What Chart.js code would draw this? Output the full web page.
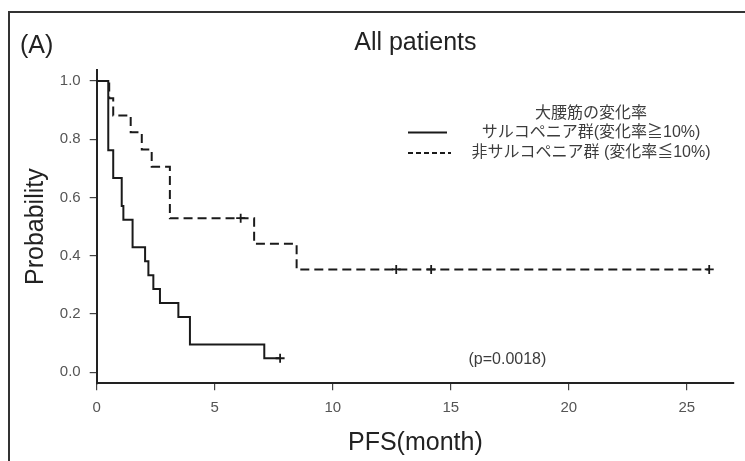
<!DOCTYPE html>
<html><head><meta charset="utf-8">
<script src="https://cdn.jsdelivr.net/npm/chart.js@4"></script>
<style>html,body{margin:0;padding:0;background:#fff}canvas{display:block}</style>
</head><body>
<canvas id="c" width="745" height="461"></canvas>
<script>
const panelLabel = '(A)';
const chartTitle = 'All patients';
const xAxisTitle = 'PFS(month)';
const yAxisTitle = 'Probability';
const legendTitle = '大腰筋の変化率';
const seriesNames = ['サルコペニア群(変化率≧10%)', '非サルコペニア群 (変化率≦10%)'];
const pValueText = '(p=0.0018)';
const xTicks = [0, 5, 10, 15, 20, 25];
const yTicks = [0, 0.2, 0.4, 0.6, 0.8, 1.0];
const sarcoTimes = [0, 0.49, 0.70, 1.06, 1.13, 1.52, 2.05, 2.19, 2.40, 2.68, 3.46, 3.95, 7.10, 7.77];
const sarcoSurv  = [1, 0.762, 0.667, 0.571, 0.524, 0.429, 0.381, 0.333, 0.286, 0.238, 0.190, 0.095, 0.048, 0.048];
const sarcoCensorTimes = [7.77];
const sarcoCensorSurv  = [0.048];
const nonTimes = [0, 0.53, 0.70, 1.44, 1.91, 2.33, 3.10, 6.67, 8.47, 25.95];
const nonSurv  = [1, 0.941, 0.882, 0.824, 0.765, 0.706, 0.529, 0.441, 0.353, 0.353];
const nonCensorTimes = [6.1, 12.69, 14.17, 25.95];
const nonCensorSurv  = [0.529, 0.353, 0.353, 0.353];

const LATIN = '"Liberation Sans", Arial, sans-serif';
const INK = '#1a1a1a';
const toXY = (xs, ys) => xs.map((x, i) => ({x: x, y: ys[i]}));

const decor = {
  id: 'decor',
  afterDraw(chart) {
    const ctx = chart.ctx;
    const xs = chart.scales.x, ys = chart.scales.y;
    ctx.save();
    // frame
    ctx.strokeStyle = '#333';
    ctx.lineWidth = 2;
    ctx.beginPath();
    ctx.moveTo(9, 461); ctx.lineTo(9, 12); ctx.lineTo(745, 12);
    ctx.stroke();
    // panel label
    ctx.fillStyle = '#222';
    ctx.font = '25px ' + LATIN;
    ctx.textBaseline = 'middle';
    ctx.textAlign = 'left';
    ctx.fillText(panelLabel, 20, 46.5);
    // legend
    const cx = 591;
    ctx.font = '16px "Liberation Sans", "Noto Sans CJK JP", sans-serif';
    ctx.fillStyle = '#3c3c3c';
    ctx.textAlign = 'center';
    ctx.fillText(legendTitle, cx, 113.5);
    ctx.fillText(seriesNames[0], cx, 132.5);
    ctx.fillText(seriesNames[1], cx, 153);
    ctx.strokeStyle = INK;
    ctx.lineWidth = 2;
    ctx.beginPath(); ctx.moveTo(408, 132.5); ctx.lineTo(447, 132.5); ctx.stroke();
    ctx.setLineDash([5, 3]);
    ctx.beginPath(); ctx.moveTo(408, 153); ctx.lineTo(451, 153); ctx.stroke();
    ctx.setLineDash([]);
    // p value
    ctx.font = '16px ' + LATIN;
    ctx.fillStyle = '#3c3c3c';
    ctx.fillText(pValueText, xs.getPixelForValue(17.4), ys.getPixelForValue(0.042));
    ctx.restore();
  }
};

new Chart(document.getElementById('c'), {
  type: 'line',
  data: {
    datasets: [
      {label: seriesNames[0], data: toXY(sarcoTimes, sarcoSurv), stepped: 'before',
       borderColor: INK, borderWidth: 2, pointRadius: 0, fill: false},
      {label: seriesNames[1], data: toXY(nonTimes, nonSurv), stepped: 'before',
       borderColor: INK, borderWidth: 2, borderDash: [9, 5], pointRadius: 0, fill: false},
      {label: 'censored', data: toXY(sarcoCensorTimes, sarcoCensorSurv), showLine: false,
       pointStyle: 'cross', pointRadius: 4.5, pointBorderWidth: 1.8, pointBorderColor: INK, pointBackgroundColor: INK},
      {label: 'censored', data: toXY(nonCensorTimes, nonCensorSurv), showLine: false,
       pointStyle: 'cross', pointRadius: 4.5, pointBorderWidth: 1.8, pointBorderColor: INK, pointBackgroundColor: INK}
    ]
  },
  options: {
    responsive: false, animation: false, devicePixelRatio: 1,
    layout: {padding: {left: 0, right: 11, top: 0, bottom: 0}},
    plugins: {
      legend: {display: false},
      tooltip: {enabled: false},
      title: {display: true, text: chartTitle, fullSize: false, color: '#222',
        font: {family: LATIN, size: 25, weight: 'normal'}, padding: {top: 28, bottom: 12}}
    },
    scales: {
      x: {
        type: 'linear', min: 0, max: 27,
        afterBuildTicks: s => { s.ticks = xTicks.map(v => ({value: v})); },
        afterFit: s => { s.height = 77.7; },
        grid: {drawOnChartArea: false, drawTicks: true, tickLength: 7, color: '#444', lineWidth: 1.2},
        border: {display: true, color: '#222', width: 2},
        ticks: {padding: 9, color: '#555', font: {family: LATIN, size: 15}, maxRotation: 0, callback: v => String(v)},
        title: {display: true, text: xAxisTitle, color: '#222', font: {family: LATIN, size: 25}, padding: {top: 0, bottom: 3}}
      },
      y: {
        type: 'linear', min: -0.038, max: 1.038,
        afterBuildTicks: s => { s.ticks = yTicks.map(v => ({value: v})); },
        afterFit: s => { s.width = 96.7; },
        grid: {drawOnChartArea: false, drawTicks: true, tickLength: 7, color: '#444', lineWidth: 1.2},
        border: {display: true, color: '#222', width: 2},
        ticks: {padding: 9, color: '#555', font: {family: LATIN, size: 15}, callback: v => Number(v).toFixed(1)},
        title: {display: true, text: yAxisTitle, color: '#222', font: {family: LATIN, size: 25}, padding: {top: 21, bottom: 0}}
      }
    }
  },
  plugins: [decor]
});
</script>
</body></html>
